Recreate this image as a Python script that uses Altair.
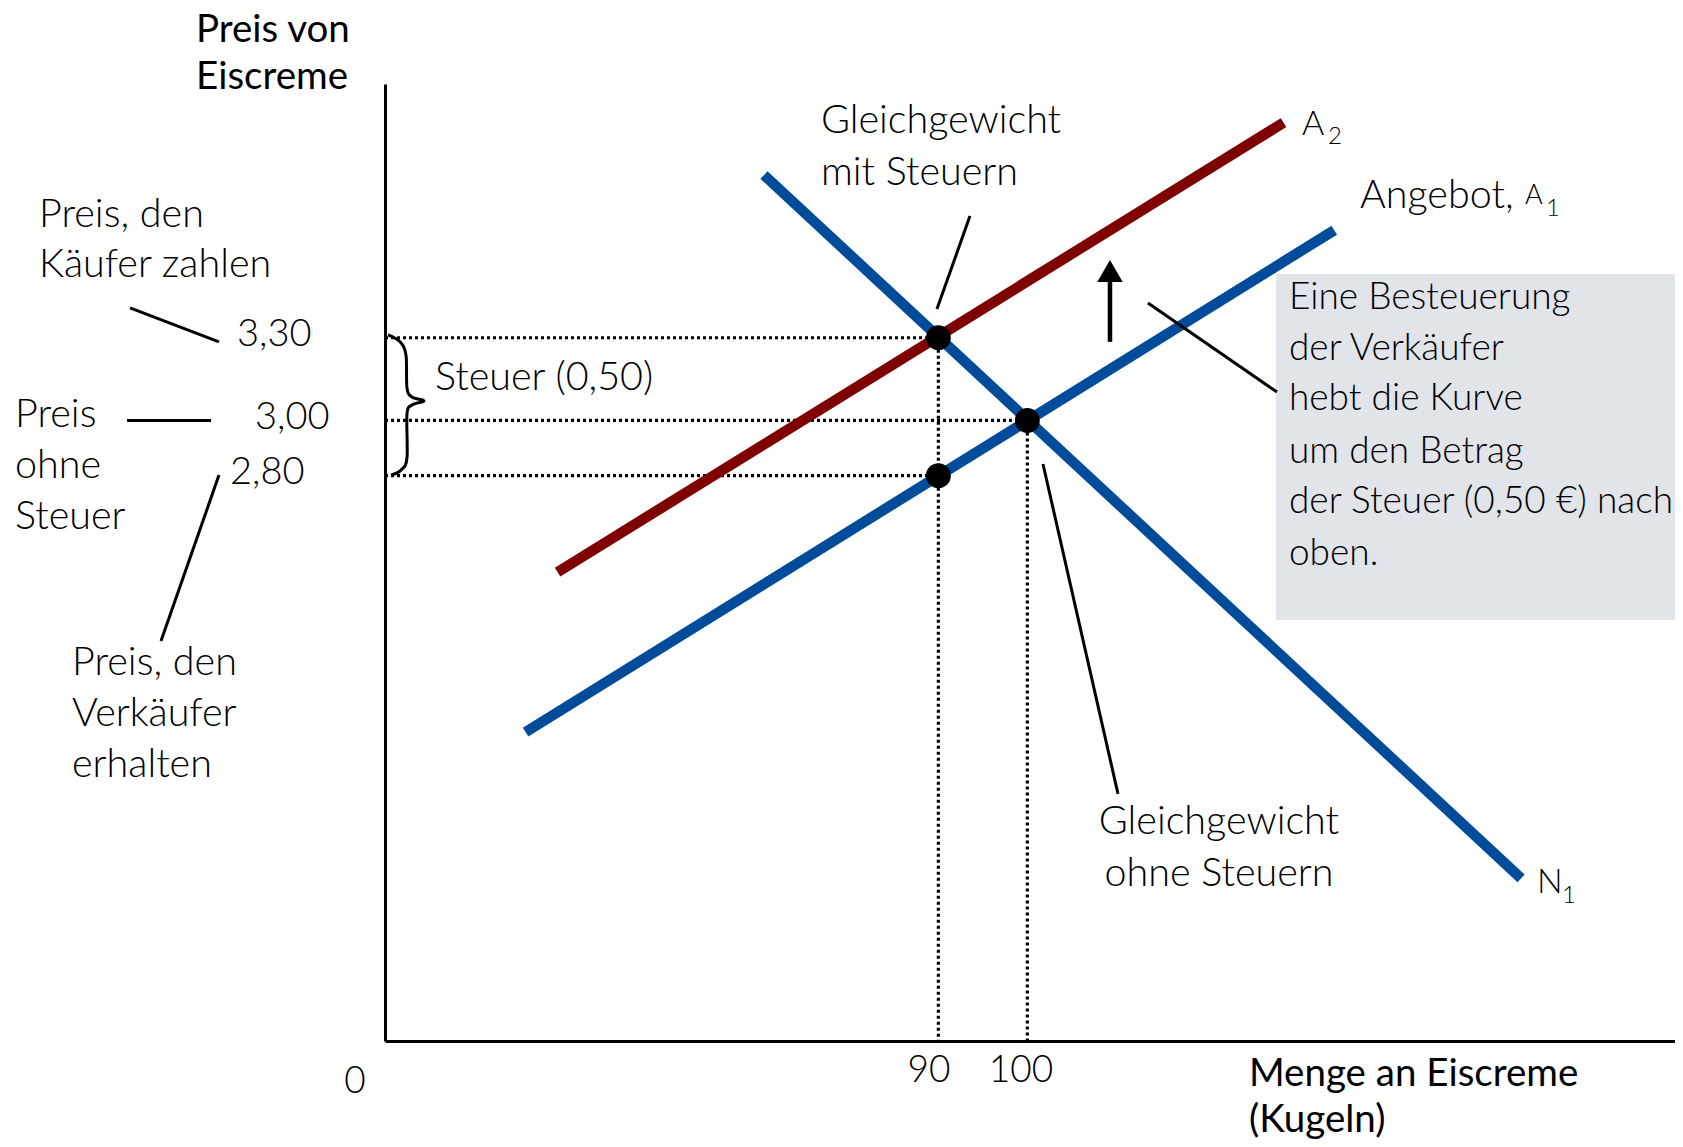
import altair as alt
import pandas as pd

# ---- scale extents (quantity of ice cream, price) ----
Q_DOMAIN = [27.8, 172.8]
P_DOMAIN = [0.75, 4.22]

# ---- supply / demand curves ----
curve_names = ["A1", "A2", "N1"]
curve_q_start = [43.6, 47.2, 70.4]
curve_p_start = [1.87, 2.45, 3.89]
curve_q_end = [134.5, 128.8, 155.5]
curve_p_end = [3.69, 4.08, 1.34]
curve_colors = ["#004C9B", "#7F0000", "#004C9B"]

# ---- equilibrium points ----
eq_q = [90, 100, 90]
eq_p = [3.30, 3.00, 2.80]

# ---- dotted guide lines ----
guide_q_start = [27.8, 27.8, 27.8, 90, 100]
guide_p_start = [3.30, 3.00, 2.80, 3.30, 3.00]
guide_q_end = [90, 100, 90, 90, 100]
guide_p_end = [3.30, 3.00, 2.80, 0.75, 0.75]

# ---- leader lines for the annotations ----
lead_q_start = [-0.86, -1.20, 9.14, 93.55, 113.56, 101.76]
lead_p_start = [3.408, 3.00, 2.802, 3.741, 3.426, 2.842]
lead_q_end = [9.14, 8.24, 2.62, 89.84, 128.06, 110.19]
lead_p_end = [3.285, 3.00, 2.20, 3.404, 3.103, 1.646]

# ---- curly brace for the tax amount ----
brace_q = [28.14, 29.49, 30.16, 30.27, 30.83, 32.18, 30.83, 30.27, 30.27, 29.60, 28.47]
brace_p = [3.310, 3.285, 3.237, 3.118, 3.085, 3.071, 3.056, 3.023, 2.864, 2.820, 2.802]

# ---- arrow showing the upward shift ----
arrow_q = [109.29]
arrow_p_start = [3.285]
arrow_p_end = [3.509]
arrow_head_p = [3.542]

# ---- grey explanation box ----
box_q = [127.95, 172.8]
box_p = [3.531, 2.277]

# ---- texts ----
label_text = ["Preis, den", "Käufer zahlen", "Preis", "ohne", "Steuer",
              "Preis, den", "Verkäufer", "erhalten",
              "Steuer (0,50)", "Gleichgewicht", "mit Steuern", "Angebot,"]
label_q = [-11.09, -11.09, -13.79, -13.79, -13.79,
           -7.38, -7.38, -7.38,
           33.42, 76.8, 76.8, 137.39]
label_p = [3.745, 3.564, 3.020, 2.835, 2.650,
           2.121, 1.936, 1.751,
           3.154, 4.086, 3.897, 3.814]

box_text = ["Eine Besteuerung", "der Verkäufer", "hebt die Kurve", "um den Betrag",
            "der Steuer (0,50 €) nach", "oben."]
box_text_q = [129.41] * 6
box_text_p = [3.444, 3.259, 3.078, 2.886, 2.704, 2.516]

tick_text = ["3,30", "3,00", "2,80"]
tick_q = [11.17, 13.19, 10.38]
tick_p = [3.31, 3.009, 2.81]

center_text = ["Gleichgewicht", "ohne Steuern"]
center_q = [121.54, 121.54]
center_p = [1.544, 1.356]

xtick_text = ["90", "100", "0"]
xtick_q = [88.94, 99.28, 24.43]
xtick_p = [0.641, 0.641, 0.601]

title_text = ["Preis von", "Eiscreme", "Menge an Eiscreme", "(Kugeln)"]
title_q = [6.56, 6.56, 124.91, 124.91]
title_p = [4.415, 4.246, 0.630, 0.462]

curve_label_text = ["A", "N"]
curve_label_q = [130.87, 157.28]
curve_label_p = [4.071, 1.323]

small_text = ["A"]
small_q = [155.93]
small_p = [3.814]

sub_text = ["2", "1", "1"]
sub_q = [133.79, 158.3, 160.09]
sub_p = [4.028, 3.767, 1.276]

FONT = "Lato"

xs = alt.Scale(domain=Q_DOMAIN, nice=False, zero=False)
ys = alt.Scale(domain=P_DOMAIN, nice=False, zero=False)
ax = alt.Axis(domain=True, domainColor="black", domainWidth=3, ticks=False,
              labels=False, grid=False, title=None)


def X(f):
    return alt.X(f, type="quantitative", scale=xs, axis=ax)


def Y(f):
    return alt.Y(f, type="quantitative", scale=ys, axis=ax)


def text_layer(texts, qs, ps, size, weight=300, align="left"):
    df = pd.DataFrame({"t": texts, "q": qs, "p": ps})
    return alt.Chart(df).mark_text(align=align, baseline="middle", font=FONT, fontSize=size,
                                   fontWeight=weight, color="black").encode(
        x=X("q"), y=Y("p"), text="t:N")


box_df = pd.DataFrame({"q1": [box_q[0]], "q2": [box_q[1]], "p1": [box_p[0]], "p2": [box_p[1]]})
box = alt.Chart(box_df).mark_rect(color="#E1E4E9").encode(
    x=X("q1"), x2="q2", y=Y("p1"), y2="p2")

guide_df = pd.DataFrame({"q1": guide_q_start, "p1": guide_p_start,
                         "q2": guide_q_end, "p2": guide_p_end})
guides = alt.Chart(guide_df).mark_rule(color="black", strokeWidth=3.2, strokeDash=[3, 3]).encode(
    x=X("q1"), y=Y("p1"), x2="q2", y2="p2")

curve_df = pd.DataFrame({"name": curve_names, "q1": curve_q_start, "p1": curve_p_start,
                         "q2": curve_q_end, "p2": curve_p_end})
curves = alt.Chart(curve_df).mark_rule(strokeWidth=10.5, strokeCap="butt").encode(
    x=X("q1"), y=Y("p1"), x2="q2", y2="p2",
    color=alt.Color("name:N", scale=alt.Scale(domain=curve_names, range=curve_colors), legend=None))

lead_df = pd.DataFrame({"q1": lead_q_start, "p1": lead_p_start, "q2": lead_q_end, "p2": lead_p_end})
leads = alt.Chart(lead_df).mark_rule(color="black", strokeWidth=3).encode(
    x=X("q1"), y=Y("p1"), x2="q2", y2="p2")

brace_df = pd.DataFrame({"i": list(range(len(brace_q))), "q": brace_q, "p": brace_p})
brace = alt.Chart(brace_df).mark_line(color="black", strokeWidth=3, interpolate="cardinal").encode(
    x=X("q"), y=Y("p"), order="i:Q")

arrow_df = pd.DataFrame({"q": arrow_q, "p1": arrow_p_start, "p2": arrow_p_end, "ph": arrow_head_p})
arrow_shaft = alt.Chart(arrow_df).mark_rule(color="black", strokeWidth=4.5).encode(
    x=X("q"), y=Y("p1"), y2="p2")
arrow_head = alt.Chart(arrow_df).mark_point(shape="triangle-up", filled=True, color="black",
                                            size=650, opacity=1).encode(x=X("q"), y=Y("ph"))

eq_df = pd.DataFrame({"q": eq_q, "p": eq_p})
eq_points = alt.Chart(eq_df).mark_circle(color="black", size=620, opacity=1).encode(
    x=X("q"), y=Y("p"))

labels = text_layer(label_text, label_q, label_p, 39.5)
box_labels = text_layer(box_text, box_text_q, box_text_p, 37)
ticks = text_layer(tick_text, tick_q, tick_p, 38)
centers = text_layer(center_text, center_q, center_p, 39.5, align="center")
xticks = text_layer(xtick_text, xtick_q, xtick_p, 37, align="center")
titles = text_layer(title_text, title_q, title_p, 38.5, weight=400)
curve_labels = text_layer(curve_label_text, curve_label_q, curve_label_p, 34)
smalls = text_layer(small_text, small_q, small_p, 27)
subs = text_layer(sub_text, sub_q, sub_p, 24)

chart = alt.layer(
    box, guides, curves, leads, brace, arrow_shaft, arrow_head, eq_points,
    labels, box_labels, ticks, centers, xticks, titles, curve_labels, smalls, subs
).properties(
    width=1290, height=957,
    autosize=alt.AutoSizeParams(type="none"),
    padding={"left": 377, "top": 76, "right": 0, "bottom": 98},
    background="white",
).configure_view(stroke=None)

chart.save("out.html", embed_options={"renderer": "svg", "actions": False})
